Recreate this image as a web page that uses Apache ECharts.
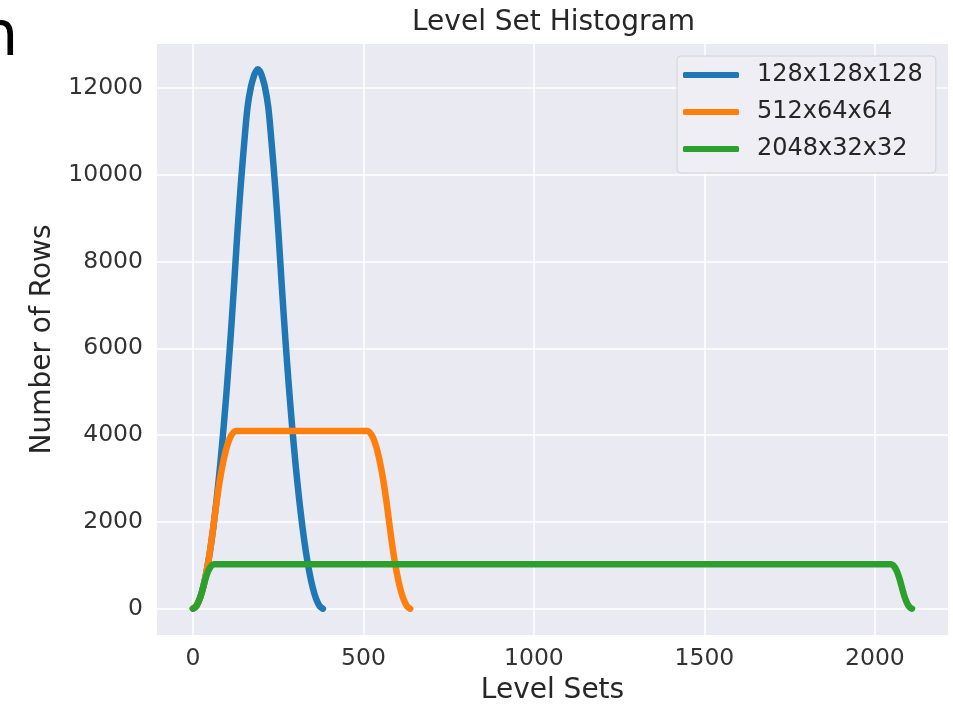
<!DOCTYPE html>
<html>
<head>
<meta charset="utf-8">
<script src="https://cdn.jsdelivr.net/npm/echarts@6/dist/echarts.min.js"></script>
<style>
  html, body { margin: 0; padding: 0; background: #fff; }
  #main { width: 953px; height: 704px; }
</style>
</head>
<body>
<div id="main"></div>
<script>
// level index / number of rows
var blueX = [0,10,20,30,40,50,60,70,80,90,100,110,120,130,140,150,160,170,180,185,190,191,196,201,211,221,231,241,251,261,271,281,291,301,311,321,331,341,351,361,371,381];
var blueY = [1,66,231,496,861,1326,1891,2556,3321,4186,5151,6216,7381,8628,9738,10700,11550,12020,12300,12385,12430,12430,12385,12300,12020,11550,10700,9738,8628,7381,6216,5151,4186,3321,2556,1891,1326,861,496,231,66,1];

var orangeX = [0,10,20,30,40,50,63,70,80,90,100,110,120,126,511,517,527,537,547,557,567,574,587,597,607,617,627,637];
var orangeY = [1,66,231,496,861,1326,2080,2500,3015,3430,3745,3960,4075,4096,4096,4075,3960,3745,3430,3015,2500,2080,1326,861,496,231,66,1];

var greenX = [0,5,10,15,20,25,31,36,41,46,51,56,62,2047,2053,2058,2063,2068,2073,2078,2084,2089,2094,2099,2104,2109];
var greenY = [1,21,66,136,231,351,528,673,793,888,958,1003,1024,1024,1003,958,888,793,673,528,351,231,136,66,21,1];

var names = ['128x128x128', '512x64x64', '2048x32x32'];
var colors = ['#1f77b4', '#ff7f0e', '#2ca02c'];
var xTicks = [0, 500, 1000, 1500, 2000];
var yTicks = [0, 2000, 4000, 6000, 8000, 10000, 12000];

function pairs(xs, ys) {
  var out = [];
  for (var i = 0; i < xs.length; i++) out.push([xs[i], ys[i]]);
  return out;
}
function plain(v) { return String(v); }

var font = 'DejaVu Sans';
var chart = echarts.init(document.getElementById('main'));

function line(name, data, color) {
  return {
    name: name,
    type: 'line',
    data: data,
    showSymbol: false,
    smooth: 0.3,
    color: color,
    lineStyle: { width: 6.5, color: color, cap: 'round', join: 'round' }
  };
}

chart.setOption({
  animation: false,
  backgroundColor: '#ffffff',
  title: {
    text: 'Level Set Histogram',
    left: 412,
    top: 9,
    padding: 0,
    textStyle: { fontFamily: font, fontSize: 28, fontWeight: 'normal', color: '#262626' }
  },
  graphic: [{
    type: 'text',
    left: -21,
    top: 8,
    style: { text: 'n', fontFamily: font, fontSize: 62, fill: '#000' }
  }],
  legend: {
    orient: 'vertical',
    left: 677,
    top: 56,
    padding: [4, 13, 9, 6],
    itemGap: 7,
    itemWidth: 56,
    itemHeight: 6,
    icon: 'roundRect',
    backgroundColor: '#EEEEF4',
    borderColor: '#D2D2DA',
    borderWidth: 1,
    borderRadius: 4,
    textStyle: { fontFamily: font, fontSize: 24, color: '#262626', lineHeight: 30, padding: [0, 0, 0, 13] },
    data: names
  },
  grid: {
    left: 157, right: 5, top: 44, bottom: 69,
    outerBoundsMode: 'none', containLabel: false,
    backgroundColor: '#EAEAF2', show: true, borderWidth: 0
  },
  xAxis: {
    type: 'value',
    min: -105.45,
    max: 2214.45,
    name: 'Level Sets',
    nameLocation: 'middle',
    nameGap: 42,
    nameTextStyle: { fontFamily: font, fontSize: 28, color: '#262626' },
    axisLine: { show: false },
    axisTick: { show: false, customValues: xTicks },
    axisLabel: { customValues: xTicks, formatter: plain, fontFamily: font, fontSize: 23.5, color: '#333', margin: 12 },
    splitLine: { show: true, lineStyle: { color: '#ffffff', width: 1.5 } }
  },
  yAxis: {
    type: 'value',
    min: -606,
    max: 13011,
    name: 'Number of Rows',
    nameLocation: 'middle',
    nameRotate: 90,
    nameGap: 100,
    nameTextStyle: { fontFamily: font, fontSize: 28, color: '#262626' },
    axisLine: { show: false },
    axisTick: { show: false, customValues: yTicks },
    axisLabel: { customValues: yTicks, formatter: plain, fontFamily: font, fontSize: 23.5, color: '#333', margin: 14 },
    splitLine: { show: true, lineStyle: { color: '#ffffff', width: 1.5 } }
  },
  series: [
    line(names[0], pairs(blueX, blueY), colors[0]),
    line(names[1], pairs(orangeX, orangeY), colors[1]),
    line(names[2], pairs(greenX, greenY), colors[2])
  ]
});
</script>
</body>
</html>
